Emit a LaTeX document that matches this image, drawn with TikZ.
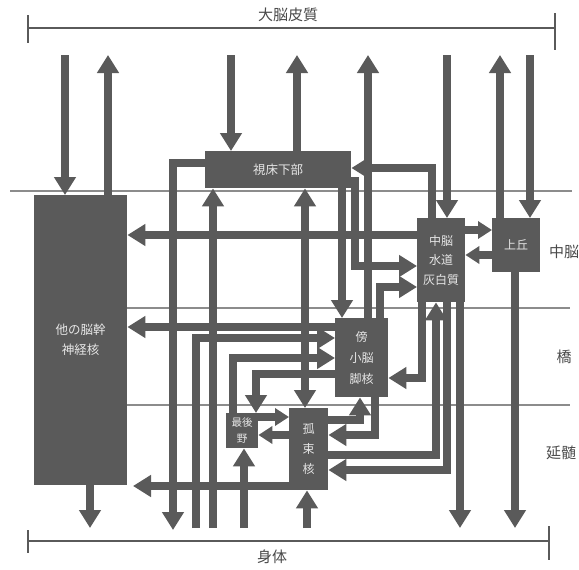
\documentclass[tikz,border=0pt]{standalone}
\usepackage{fontspec}
\setmainfont{Noto Sans CJK JP}
\usetikzlibrary{arrows.meta}
\definecolor{dg}{HTML}{5A5A5A}
\definecolor{ln}{HTML}{8C8C8C}
\definecolor{tx}{HTML}{E6E6E6}
\definecolor{lb}{HTML}{4A4A4A}
\begin{document}
\begin{tikzpicture}[x=1pt,y=-1pt,
  boxnode/.style={fill=dg,draw=none,inner sep=0pt,anchor=north west,text=tx,align=center},
  conn/.style={draw=dg,line width=7.8pt,line join=miter},
  arr/.style={conn,-{Triangle[width=21pt,length=18pt]}},
  darr/.style={conn,{Triangle[width=21pt,length=18pt]}-{Triangle[width=21pt,length=18pt]}},
  sarr/.style={conn,-{Triangle[width=17pt,length=14pt]}},
  thinline/.style={draw=ln,line width=1.2pt},
  bracket/.style={draw=dg,line width=2.4pt},
  lab/.style={text=lb,font=\fontsize{15}{17}\selectfont,inner sep=0pt}
]
\useasboundingbox (0,0) rectangle (579,570);
\fill[white] (0,0) rectangle (579,570);

% level lines
\draw[thinline] (10,191) -- (572,191);
\draw[thinline] (127,308) -- (570,308);
\draw[thinline] (127,405) -- (570,405);

% brackets
\draw[bracket] (28,28) -- (555,28);
\draw[bracket] (28,15) -- (28,43);
\draw[bracket] (555,13) -- (555,50);
\node[lab] (cortex) at (288,15) {大脳皮質};
\draw[bracket] (28,541) -- (549,541);
\draw[bracket] (28,530) -- (28,553);
\draw[bracket] (549,526) -- (549,560);
\node[lab] (body) at (272,557) {身体};

\node[lab] (lmid) at (564,252) {中脳};
\node[lab] (lpons) at (564,357) {橋};
\node[lab] (lmed) at (561,453) {延髄};

% boxes
\node[boxnode,minimum width=93pt,minimum height=290pt,font=\fontsize{12.5}{20}\selectfont] (other) at (34,195) {他の脳幹\\神経核};
\node[boxnode,minimum width=146pt,minimum height=37pt,font=\fontsize{12.5}{14}\selectfont] (hyp) at (205,151) {視床下部};
\node[boxnode,minimum width=48pt,minimum height=84pt,font=\fontsize{12}{19.5}\selectfont] (pag) at (417,218) {中脳\\水道\\灰白質};
\node[boxnode,minimum width=48pt,minimum height=54pt,font=\fontsize{12}{14}\selectfont] (sc) at (492,218) {上丘};
\node[boxnode,minimum width=53pt,minimum height=79pt,font=\fontsize{12}{21}\selectfont] (pb) at (335,318) {傍\\小脳\\脚核};
\node[boxnode,minimum width=32pt,minimum height=35pt,font=\fontsize{10.5}{16}\selectfont] (ap) at (226,413) {最後\\野};
\node[boxnode,minimum width=39pt,minimum height=82pt,font=\fontsize{12}{20}\selectfont] (nts) at (289,408) {孤\\束\\核};

% free ends
\coordinate (t1) at (65,55);
\coordinate (t2) at (108,55);
\coordinate (t4) at (231,55);
\coordinate (t5) at (297,55);
\coordinate (t6) at (368,55);
\coordinate (t7) at (447,55);
\coordinate (t8) at (500,55);
\coordinate (t9) at (530,55);
\coordinate (b3) at (90,528);
\coordinate (b10) at (515,528);
\coordinate (b11) at (460,528);
\coordinate (b21) at (213,528);
\coordinate (b22) at (173,530);
\coordinate (b23) at (196,528);
\coordinate (b28) at (244,528);
\coordinate (b29) at (307,528);
% bends
\coordinate (y12) at (0,230);
\coordinate (y13) at (0,255);
\coordinate (k14) at (432,168);
\coordinate (k15a) at (355,181);
\coordinate (k15) at (355,266);
\coordinate (k16) at (380,287);
\coordinate (y17) at (0,235);
\coordinate (y18) at (0,327);
\coordinate (x19) at (342,0);
\coordinate (x20) at (305,0);
\coordinate (k22) at (173,163);
\coordinate (k23) at (196,338);
\coordinate (k24) at (233,358);
\coordinate (k25) at (256,374);
\coordinate (y26) at (0,417);
\coordinate (y27) at (0,435);
\coordinate (k30) at (133,486);
\coordinate (k31) at (360,420);
\coordinate (k32) at (375,435);
\coordinate (k33) at (422,378);
\coordinate (k34) at (436,455);
\coordinate (k35) at (447,470);

% cortex / body connectors
\draw[arr] (t1) -- (t1 |- other.north);
\draw[arr] (other.north -| t2) -- (t2);
\draw[arr] (other.south -| b3) -- (b3);
\draw[arr] (t4) -- (t4 |- hyp.north);
\draw[arr] (hyp.north -| t5) -- (t5);
\draw[arr] (pb.north -| t6) -- (t6);
\draw[arr] (t7) -- (t7 |- pag.north);
\draw[arr] (sc.north -| t8) -- (t8);
\draw[arr] (t9) -- (t9 |- sc.north);
\draw[arr] (sc.south -| b10) -- (b10);
\draw[arr] (pag.south -| b11) -- (b11);

% internal connectors
\draw[sarr] (pag.east |- y12) -- (sc.west |- y12);
\draw[sarr] (sc.west |- y13) -- (pag.east |- y13);
\draw[arr] (pag.north -| k14) -- (k14) -- (hyp.east |- k14);
\draw[arr] (hyp.east |- k15a) -- (k15a) -- (k15) -- (pag.west |- k15);
\draw[arr] (pb.north -| k16) -- (k16) -- (pag.west |- k16);
\draw[arr] (pag.west |- y17) -- (other.east |- y17);
\draw[arr] (pb.west |- y18) -- (other.east |- y18);
\draw[arr] (hyp.south -| x19) -- (pb.north -| x19);
\draw[darr] (hyp.south -| x20) -- (nts.north -| x20);
\draw[arr] (b21) -- (hyp.south -| b21);
\draw[arr] (hyp.west |- k22) -- (k22) -- (b22);
\draw[arr] (b23) -- (k23) -- (pb.west |- k23);
\draw[arr] (ap.north -| k24) -- (k24) -- (pb.west |- k24);
\draw[arr] (pb.west |- k25) -- (k25) -- (ap.north -| k25);
\draw[sarr] (ap.east |- y26) -- (nts.west |- y26);
\draw[sarr] (nts.west |- y27) -- (ap.east |- y27);
\draw[arr] (b28) -- (ap.south -| b28);
\draw[arr] (b29) -- (nts.south -| b29);
\draw[arr] (nts.west |- k30) -- (k30);
\draw[arr] (nts.east |- k31) -- (k31) -- (pb.south -| k31);
\draw[arr] (pb.south -| k32) -- (k32) -- (nts.east |- k32);
\draw[arr] (pag.south -| k33) -- (k33) -- (pb.east |- k33);
\draw[arr] (nts.east |- k34) -- (k34) -- (pag.south -| k34);
\draw[arr] (pag.south -| k35) -- (k35) -- (nts.east |- k35);
\end{tikzpicture}
\end{document}
